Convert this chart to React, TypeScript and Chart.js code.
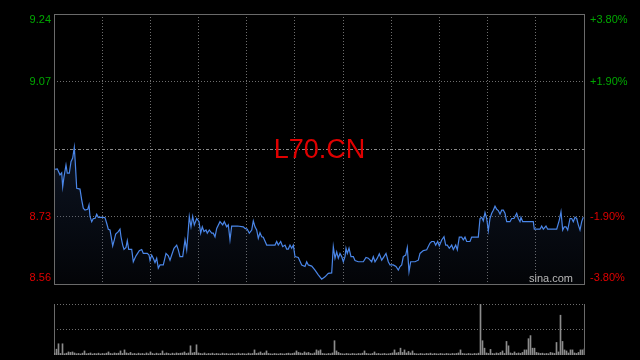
import React, { useEffect, useRef } from "react";
import { Chart, registerables } from "chart.js";

Chart.register(...registerables);

// ---------- data ----------
const SESSION = 530; // session length in minutes (x domain)
const GRID_COLUMNS = 11;
const prevClose = 8.9;
const priceMin = 8.56;
const priceMax = 9.24;
const title = "L70.CN";
const watermark = "sina.com";

const leftTicks = [9.24, 9.07, 8.73, 8.56];
const leftTickLabels = ["9.24", "9.07", "8.73", "8.56"];
const rightTickLabels = ["+3.80%", "+1.90%", "-1.90%", "-3.80%"];
const dottedLevels = [9.07, 8.73];

const times = [
  1, 3.3, 6, 7.7, 8.7, 10, 12, 13.3, 15.3, 17,
  18.7, 20.3, 21.3, 22.7, 26, 27.7, 29.3, 31, 33.7, 35,
  36, 37.7, 39.3, 41, 42.7, 44.3, 49.3, 51, 52.7, 54.3,
  56, 57.7, 58.7, 60.3, 61.7, 64.3, 66, 67, 68.7, 70,
  72, 73.3, 74.7, 77.7, 79.3, 82, 85.3, 87.7, 89.3, 93.3,
  95, 96, 97.7, 99.3, 101, 102.7, 104.3, 106, 109.3, 112,
  114.3, 116, 117.7, 120, 122.7, 124.3, 126, 128.7, 131, 132.7,
  134.3, 135.3, 137, 138.7, 140.3, 142.7, 145, 146.7, 148.3, 150,
  152, 153.3, 155.3, 157.7, 159.3, 161, 162.7, 166, 168.7, 170.3,
  172.7, 174.3, 176, 177.7, 183.5, 189.3, 191, 193.3, 195.3, 197.7,
  199.3, 201, 202.7, 204.3, 206, 207.7, 209.3, 212.7, 217, 221,
  222.7, 224.3, 226.7, 228.7, 231, 232.7, 234.3, 236, 237.7, 239.3,
  241, 244.3, 247.7, 251, 252.7, 254.3, 257.7, 261, 264.3, 267.7,
  271, 274.3, 277.7, 279.3, 281, 282.7, 284.3, 286, 287.7, 289.3,
  291, 292, 293.3, 295, 297, 299.3, 301, 304.3, 309.3, 312,
  314.3, 317.7, 319.3, 321, 323.3, 325.3, 327.7, 330, 332, 334.3,
  336, 339.3, 342, 344.3, 346, 347.7, 349.3, 351.7, 353.3, 355,
  356.7, 361, 364.3, 366, 369.3, 372.7, 376, 377.7, 380, 381.7,
  383.7, 385.3, 387.7, 390, 391.7, 393.3, 395.3, 397.7, 399.3, 401.7,
  403.3, 405.3, 407.7, 409.3, 411, 412.7, 416, 417.7, 424.3, 426,
  427.7, 429.3, 431, 432.7, 434.3, 436, 437.7, 439.3, 441, 442.7,
  444.3, 446, 447.7, 449.3, 451, 452.7, 456, 457.7, 460, 462.7,
  464.3, 466, 467, 468.7, 474, 479.3, 480.3, 486, 487.7, 489.3,
  492, 493.7, 498, 502.7, 505.3, 507, 508.7, 510.3, 512, 513.7,
  516, 517.7, 519.3, 521, 522.7, 524.3, 526, 527.7, 529.3,
];

const prices = [
  8.849, 8.85, 8.835, 8.84, 8.805, 8.83, 8.86, 8.839, 8.839, 8.868,
  8.877, 8.904, 8.865, 8.801, 8.799, 8.772, 8.751, 8.746, 8.748, 8.759,
  8.73, 8.717, 8.725, 8.725, 8.736, 8.728, 8.728, 8.727, 8.713, 8.698,
  8.696, 8.671, 8.656, 8.671, 8.686, 8.692, 8.698, 8.679, 8.658, 8.647,
  8.652, 8.669, 8.647, 8.647, 8.616, 8.631, 8.644, 8.647, 8.637, 8.637,
  8.633, 8.619, 8.633, 8.625, 8.614, 8.625, 8.6, 8.608, 8.608, 8.637,
  8.631, 8.62, 8.633, 8.65, 8.658, 8.646, 8.629, 8.629, 8.671, 8.646,
  8.696, 8.73, 8.704, 8.73, 8.709, 8.725, 8.717, 8.688, 8.704, 8.692,
  8.696, 8.688, 8.696, 8.688, 8.688, 8.679, 8.7, 8.717, 8.709, 8.717,
  8.704, 8.709, 8.671, 8.706, 8.706, 8.704, 8.7, 8.698, 8.688, 8.696,
  8.719, 8.704, 8.696, 8.675, 8.689, 8.679, 8.678, 8.658, 8.658, 8.658,
  8.667, 8.658, 8.667, 8.654, 8.658, 8.648, 8.648, 8.658, 8.65, 8.658,
  8.629, 8.627, 8.608, 8.604, 8.616, 8.608, 8.605, 8.595, 8.583, 8.572,
  8.578, 8.587, 8.588, 8.654, 8.625, 8.641, 8.625, 8.637, 8.629, 8.616,
  8.629, 8.65, 8.637, 8.65, 8.629, 8.629, 8.619, 8.616, 8.616, 8.627,
  8.625, 8.616, 8.629, 8.616, 8.625, 8.636, 8.62, 8.629, 8.637, 8.616,
  8.608, 8.608, 8.604, 8.595, 8.604, 8.608, 8.629, 8.633, 8.652, 8.591,
  8.616, 8.616, 8.62, 8.637, 8.644, 8.646, 8.663, 8.667, 8.667, 8.658,
  8.667, 8.656, 8.671, 8.679, 8.658, 8.658, 8.65, 8.658, 8.647, 8.658,
  8.646, 8.678, 8.678, 8.671, 8.678, 8.667, 8.667, 8.678, 8.678, 8.725,
  8.728, 8.719, 8.74, 8.725, 8.694, 8.725, 8.738, 8.746, 8.756, 8.748,
  8.745, 8.736, 8.746, 8.746, 8.738, 8.717, 8.717, 8.725, 8.725, 8.738,
  8.725, 8.717, 8.728, 8.717, 8.717, 8.717, 8.698, 8.698, 8.706, 8.698,
  8.706, 8.698, 8.698, 8.698, 8.721, 8.742, 8.696, 8.704, 8.704, 8.696,
  8.725, 8.725, 8.717, 8.728, 8.725, 8.709, 8.696, 8.717, 8.728,
];

const volMax = 500;
const volTimes = [
  0, 2, 4, 6, 8, 10, 12, 14, 16, 18, 20, 22, 24, 26, 28, 30, 32, 34, 36, 38,
  40, 42, 44, 46, 48, 50, 52, 54, 56, 58, 60, 62, 64, 66, 68, 70, 72, 74, 76, 78,
  80, 82, 84, 86, 88, 90, 92, 94, 96, 98, 100, 102, 104, 106, 108, 110, 112, 114, 116, 118,
  120, 122, 124, 126, 128, 130, 132, 134, 136, 138, 140, 142, 144, 146, 148, 150, 152, 154, 156, 158,
  160, 162, 164, 166, 168, 170, 172, 174, 176, 178, 180, 182, 184, 186, 188, 190, 192, 194, 196, 198,
  200, 202, 204, 206, 208, 210, 212, 214, 216, 218, 220, 222, 224, 226, 228, 230, 232, 234, 236, 238,
  240, 242, 244, 246, 248, 250, 252, 254, 256, 258, 260, 262, 264, 266, 268, 270, 272, 274, 276, 278,
  280, 282, 284, 286, 288, 290, 292, 294, 296, 298, 300, 302, 304, 306, 308, 310, 312, 314, 316, 318,
  320, 322, 324, 326, 328, 330, 332, 334, 336, 338, 340, 342, 344, 346, 348, 350, 352, 354, 356, 358,
  360, 362, 364, 366, 368, 370, 372, 374, 376, 378, 380, 382, 384, 386, 388, 390, 392, 394, 396, 398,
  400, 402, 404, 406, 408, 410, 412, 414, 416, 418, 420, 422, 424, 426, 428, 430, 432, 434, 436, 438,
  440, 442, 444, 446, 448, 450, 452, 454, 456, 458, 460, 462, 464, 466, 468, 470, 472, 474, 476, 478,
  480, 482, 484, 486, 488, 490, 492, 494, 496, 498, 500, 502, 504, 506, 508, 510, 512, 514, 516, 518,
  520, 522, 524, 526, 528, 530,
];
const volumes = [
  20, 57, 110, 15, 110, 12, 18, 30, 25, 30, 20, 12, 15, 10, 18, 40, 12, 15, 20, 10,
  15, 12, 18, 10, 15, 12, 18, 30, 15, 12, 20, 15, 18, 40, 15, 50, 20, 15, 25, 12,
  15, 10, 18, 12, 15, 10, 20, 12, 30, 15, 10, 18, 12, 15, 40, 12, 20, 15, 10, 18,
  12, 20, 15, 18, 20, 30, 15, 20, 90, 20, 25, 100, 20, 15, 12, 20, 10, 15, 12, 18,
  10, 15, 12, 10, 18, 12, 15, 10, 12, 15, 10, 12, 18, 10, 15, 12, 10, 18, 12, 15,
  50, 15, 20, 30, 15, 20, 40, 15, 12, 10, 15, 12, 10, 15, 12, 10, 15, 18, 12, 15,
  20, 40, 25, 20, 15, 30, 20, 25, 15, 12, 20, 50, 40, 50, 15, 12, 10, 15, 12, 20,
  140, 40, 25, 15, 12, 10, 15, 12, 10, 15, 12, 10, 15, 12, 18, 40, 15, 12, 10, 15,
  30, 12, 15, 10, 12, 15, 10, 12, 15, 20, 50, 20, 25, 67, 25, 50, 20, 35, 20, 40,
  15, 12, 10, 15, 12, 10, 15, 12, 18, 10, 15, 12, 10, 15, 12, 10, 15, 12, 10, 15,
  12, 15, 20, 50, 15, 12, 10, 15, 12, 10, 15, 12, 18, 500, 140, 67, 20, 15, 55, 15,
  12, 20, 15, 25, 40, 15, 133, 90, 20, 15, 30, 15, 20, 15, 25, 50, 50, 160, 190, 67,
  67, 25, 20, 15, 18, 12, 15, 12, 25, 20, 15, 123, 30, 390, 133, 50, 40, 20, 50, 50,
  20, 15, 25, 50, 50, 60,
];

// ---------- styles ----------
const BG = "#000000";
const BORDER = "#6a6a6a";
const GRID = "#6e6e6e";
const LINE = "#4a86e8";
const GREEN = "#00a800";
const RED = "#e00000";
const FONT = '"Liberation Sans", Arial, sans-serif';

const px = (v: number) => Math.floor(v) + 0.5;

const priceDecor = {
  id: "priceDecor",
  beforeDatasetsDraw(chart: any) {
    const { ctx, chartArea: a, scales } = chart;
    const x = scales.x;
    const y = scales.y;
    ctx.save();
    ctx.lineWidth = 1;
    ctx.strokeStyle = GRID;
    ctx.setLineDash([1, 2]);
    for (let k = 1; k < GRID_COLUMNS; k++) {
      const xx = px(x.getPixelForValue((k * SESSION) / GRID_COLUMNS));
      ctx.beginPath();
      ctx.moveTo(xx, a.top);
      ctx.lineTo(xx, a.bottom);
      ctx.stroke();
    }
    for (const v of dottedLevels) {
      const yy = px(y.getPixelForValue(v));
      ctx.beginPath();
      ctx.moveTo(a.left, yy);
      ctx.lineTo(a.right, yy);
      ctx.stroke();
    }
    ctx.strokeStyle = "#8a8a8a";
    ctx.setLineDash([3, 2, 1, 2]);
    const yc = px(y.getPixelForValue(prevClose));
    ctx.beginPath();
    ctx.moveTo(a.left, yc);
    ctx.lineTo(a.right, yc);
    ctx.stroke();
    ctx.restore();
  },
  afterDatasetsDraw(chart: any) {
    const { ctx, chartArea: a, scales } = chart;
    const y = scales.y;
    ctx.save();
    // border
    ctx.strokeStyle = BORDER;
    ctx.lineWidth = 1;
    ctx.setLineDash([]);
    ctx.strokeRect(px(a.left), px(a.top), Math.floor(a.right) - Math.floor(a.left), Math.floor(a.bottom) - Math.floor(a.top));
    // axis labels
    ctx.font = "11px " + FONT;
    ctx.textBaseline = "middle";
    leftTicks.forEach((v, i) => {
      let yy = y.getPixelForValue(v);
      yy = Math.min(Math.max(yy, a.top + 6), a.bottom - 6);
      const color = v > prevClose ? GREEN : RED;
      ctx.fillStyle = color;
      ctx.textAlign = "right";
      ctx.fillText(leftTickLabels[i], a.left - 3, yy);
      ctx.textAlign = "left";
      ctx.fillText(rightTickLabels[i], a.right + 6, yy);
    });
    // title
    ctx.font = "27px " + FONT;
    ctx.fillStyle = RED;
    ctx.textAlign = "center";
    ctx.textBaseline = "middle";
    ctx.fillText(title, (a.left + a.right) / 2 + 0.5, y.getPixelForValue(prevClose) + 1.5);
    // watermark
    ctx.font = "11px " + FONT;
    ctx.fillStyle = "#b8b8b8";
    ctx.textAlign = "right";
    ctx.fillText(watermark, a.right - 11, a.bottom - 5);
    ctx.restore();
  },
};

const volDecor = {
  id: "volDecor",
  beforeDatasetsDraw(chart: any) {
    const { ctx, chartArea: a, scales } = chart;
    const y = scales.y;
    ctx.save();
    ctx.lineWidth = 1;
    ctx.strokeStyle = GRID;
    ctx.setLineDash([1, 2]);
    for (const v of [volMax, volMax / 2]) {
      const yy = px(y.getPixelForValue(v));
      ctx.beginPath();
      ctx.moveTo(a.left, yy);
      ctx.lineTo(a.right, yy);
      ctx.stroke();
    }
    ctx.setLineDash([]);
    ctx.strokeStyle = BORDER;
    for (const xv of [a.left, a.right]) {
      ctx.beginPath();
      ctx.moveTo(px(xv), a.top);
      ctx.lineTo(px(xv), a.bottom);
      ctx.stroke();
    }
    ctx.restore();
  },
};

export default function App() {
  const priceRef = useRef<HTMLCanvasElement | null>(null);
  const volRef = useRef<HTMLCanvasElement | null>(null);

  useEffect(() => {
    if (!priceRef.current || !volRef.current) return;
    const priceChart = new Chart(priceRef.current, {
      type: "line",
      data: {
        datasets: [
          {
            data: times.map((t, i) => ({ x: t, y: prices[i] })),
            borderColor: LINE,
            borderWidth: 1.2,
            pointRadius: 0,
            tension: 0,
            fill: "start",
            backgroundColor: (c: any) => {
              const a = c.chart.chartArea;
              if (!a) return "rgba(0,0,0,0)";
              const g = c.chart.ctx.createLinearGradient(0, a.top + a.height * 0.45, 0, a.bottom);
              g.addColorStop(0, "rgba(40,62,105,0.34)");
              g.addColorStop(1, "rgba(40,62,105,0.07)");
              return g;
            },
          },
        ],
      },
      options: {
        animation: false,
        responsive: false,
        maintainAspectRatio: false,
        events: [],
        layout: { padding: { left: 54, right: 56, top: 14, bottom: 16 } },
        plugins: { legend: { display: false }, tooltip: { enabled: false } },
        scales: {
          x: { type: "linear", min: 0, max: SESSION, display: false },
          y: { type: "linear", min: priceMin, max: priceMax, display: false },
        },
      },
      plugins: [priceDecor],
    } as any);

    const volChart = new Chart(volRef.current, {
      type: "bar",
      data: {
        datasets: [
          {
            data: volTimes.map((t, i) => ({ x: t, y: volumes[i] })),
            backgroundColor: "#8c8c8c",
            borderWidth: 0,
            barThickness: 1,
          },
        ],
      },
      options: {
        animation: false,
        responsive: false,
        maintainAspectRatio: false,
        events: [],
        layout: { padding: { left: 54, right: 56, top: 4, bottom: 5 } },
        plugins: { legend: { display: false }, tooltip: { enabled: false } },
        scales: {
          x: { type: "linear", min: -0.5, max: SESSION - 0.5, display: false, offset: false },
          y: { type: "linear", min: 0, max: volMax, display: false },
        },
      },
      plugins: [volDecor],
    } as any);

    return () => {
      priceChart.destroy();
      volChart.destroy();
    };
  }, []);

  return (
    <div style={{ position: "fixed", left: 0, top: 0, width: 640, height: 360, background: BG, overflow: "hidden" }}>
      <canvas ref={priceRef} width={640} height={300} style={{ position: "absolute", left: 0, top: 0, width: 640, height: 300 }} />
      <canvas ref={volRef} width={640} height={60} style={{ position: "absolute", left: 0, top: 300, width: 640, height: 60 }} />
    </div>
  );
}
